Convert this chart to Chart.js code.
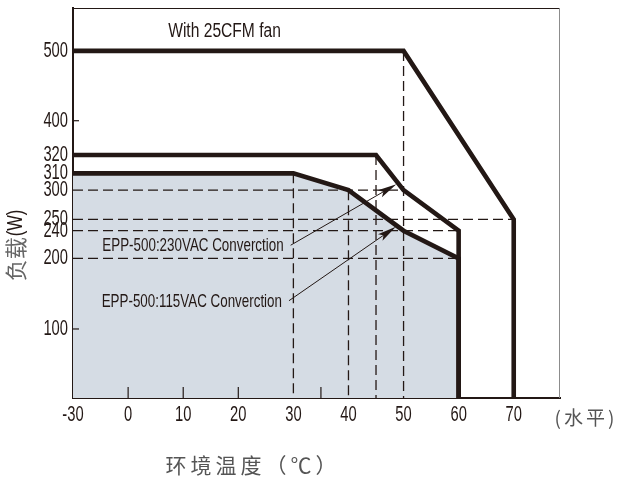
<!DOCTYPE html>
<html lang="zh">
<head>
<meta charset="UTF-8">
<title>EPP-500 降额曲线</title>
<style>
  html, body { margin: 0; padding: 0; background: #fff; }
  #wrap { width: 617px; height: 484px; }
</style>
</head>
<body>
<div id="wrap"><canvas id="myChart"></canvas></div>
<script src="https://cdn.jsdelivr.net/npm/chart.js"></script>
<script>
// 刻度
const xTicks = [-30, 0, 10, 20, 30, 40, 50, 60, 70];
const yTicks = [100, 200, 240, 250, 300, 310, 320, 400, 500];
const xMinorTicks = [0, 10, 20, 35];
const yMinorTicks = [100, 400];

// 降额曲线 (温度 / 负载)
const fanTemp = [-30, 50, 70, 70];
const fanLoad = [500, 500, 250, 0];
const ac230Temp = [-30, 45, 50, 60, 60];
const ac230Load = [320, 320, 300, 240, 0];
const ac115Temp = [-30, 30, 40, 50, 60, 60];
const ac115Load = [310, 310, 300, 240, 200, 0];

// 虚线辅助线
const hGuideLoad = [300, 250, 240, 200];
const hGuideTo = [50, 70, 60, 60];
const vGuideTemp = [30, 40, 45, 50];
const vGuideFrom = [310, 300, 320, 500];

// 标注文字与箭头 (起点 -> 终点)
const fanLabel = 'With 25CFM fan';
const fanLabelAt = [17.5, 527];
const noteLabels = ['EPP-500:230VAC Converction', 'EPP-500:115VAC Converction'];
const noteFrom = [[29.5, 219], [29.2, 140]];
const noteTo = [[48.7, 303.5], [48.6, 243.5]];

// 坐标轴不是等距的: 数值 -> 轴长比例
const axisBreaks = {
  x: [[-30, 0], [0, 0.1132], [78.4, 1]],
  y: [[0, 0], [100, 0.177], [200, 0.358], [240, 0.429], [250, 0.458], [300, 0.533],
      [310, 0.576], [320, 0.623], [400, 0.711], [500, 0.890], [560, 1]]
};

const INK = '#231815';
const SANS = "'Liberation Sans Narrow', 'Liberation Sans', sans-serif";
const CJK = "'Noto Sans CJK SC', sans-serif";

function lerp(list, v, a, b) {
  for (let i = 1; i < list.length; i++) {
    if (v <= list[i][a] || i === list.length - 1) {
      const p = list[i - 1], q = list[i];
      return p[b] + (v - p[a]) / (q[a] - p[a]) * (q[b] - p[b]);
    }
  }
}

// 分段线性坐标轴
class BrokenScale extends Chart.LinearScale {
  getPixelForValue(value) {
    if (value === null || value === undefined) return NaN;
    return this.getPixelForDecimal(lerp(axisBreaks[this.axis], value, 0, 1));
  }
  getValueForPixel(pixel) {
    return lerp(axisBreaks[this.axis], this.getDecimalForPixel(pixel), 1, 0);
  }
}
BrokenScale.id = 'broken';
BrokenScale.defaults = Chart.LinearScale.defaults;
Chart.register(BrokenScale);

function pts(xs, ys) {
  return xs.map((x, i) => ({ x: x, y: ys[i] }));
}

function curve(xs, ys, fill) {
  return {
    data: pts(xs, ys),
    borderColor: INK,
    borderWidth: 4.6,
    borderJoinStyle: 'miter',
    backgroundColor: '#d5dce4',
    fill: fill,
    pointRadius: 0,
    tension: 0
  };
}

function guide(xs, ys) {
  return {
    data: pts(xs, ys),
    borderColor: INK,
    borderWidth: 1.3,
    borderDash: [10, 5],
    fill: false,
    pointRadius: 0
  };
}

const datasets = [
  curve(fanTemp, fanLoad, false),
  curve(ac230Temp, ac230Load, false),
  curve(ac115Temp, ac115Load, 'origin')
];
hGuideLoad.forEach((w, i) => datasets.push(guide([-30, hGuideTo[i]], [w, w])));
vGuideTemp.forEach((t, i) => datasets.push(guide([t, t], [vGuideFrom[i], 0])));

// 原图用的是很窄的字体, 这里横向压缩
function text(ctx, str, x, y, font, color, align, sx) {
  ctx.save();
  ctx.font = font;
  ctx.fillStyle = color;
  ctx.textAlign = align;
  ctx.textBaseline = 'middle';
  ctx.translate(x, y);
  ctx.scale(sx || 1, 1);
  ctx.fillText(str, 0, 0);
  ctx.restore();
}

function arrow(ctx, x0, y0, x1, y1) {
  const ang = Math.atan2(y1 - y0, x1 - x0);
  ctx.beginPath();
  ctx.moveTo(x0, y0);
  ctx.lineTo(x1 - 12 * Math.cos(ang), y1 - 12 * Math.sin(ang));
  ctx.stroke();
  ctx.save();
  ctx.translate(x1, y1);
  ctx.rotate(ang);
  ctx.beginPath();
  ctx.moveTo(0, 0);
  ctx.lineTo(-19, -4);
  ctx.lineTo(-15, 0);
  ctx.lineTo(-19, 4);
  ctx.closePath();
  ctx.fill();
  ctx.restore();
}

const decor = {
  id: 'decor',
  afterDraw(chart) {
    const { ctx, chartArea: a, scales: { x, y } } = chart;
    ctx.save();
    // 上边框和右边框
    ctx.lineWidth = 1;
    ctx.strokeStyle = INK;
    ctx.beginPath();
    ctx.moveTo(a.left, a.top + 0.5);
    ctx.lineTo(a.right, a.top + 0.5);
    ctx.stroke();
    ctx.strokeStyle = '#8c8c8c';
    ctx.beginPath();
    ctx.moveTo(a.right - 0.5, a.top);
    ctx.lineTo(a.right - 0.5, a.bottom);
    ctx.stroke();

    // 内侧小刻度
    ctx.strokeStyle = INK;
    ctx.lineWidth = 1.2;
    xMinorTicks.forEach(t => {
      const px = x.getPixelForValue(t);
      ctx.beginPath();
      ctx.moveTo(px, a.bottom);
      ctx.lineTo(px, a.bottom - 11);
      ctx.stroke();
    });
    yMinorTicks.forEach(w => {
      const py = y.getPixelForValue(w);
      ctx.beginPath();
      ctx.moveTo(a.left, py);
      ctx.lineTo(a.left + 6, py);
      ctx.stroke();
    });

    // 刻度文字
    const tickFont = '22px ' + SANS;
    x.ticks.forEach(t => text(ctx, t.label, x.getPixelForValue(t.value), a.bottom + 17, tickFont, INK, 'center', 0.67));
    y.ticks.forEach(t => text(ctx, t.label, a.left - 5, y.getPixelForValue(t.value), tickFont, INK, 'right', 0.67));

    // 标注
    text(ctx, fanLabel, x.getPixelForValue(fanLabelAt[0]), y.getPixelForValue(fanLabelAt[1]),
      '20px ' + SANS, INK, 'center', 0.78);
    ctx.lineWidth = 1;
    ctx.fillStyle = INK;
    noteLabels.forEach((s, i) => {
      const x0 = x.getPixelForValue(noteFrom[i][0]), y0 = y.getPixelForValue(noteFrom[i][1]);
      const x1 = x.getPixelForValue(noteTo[i][0]), y1 = y.getPixelForValue(noteTo[i][1]);
      arrow(ctx, x0, y0, x1, y1);
      text(ctx, s, x0 - 7, y0 + 1, '18.6px ' + SANS, INK, 'right', 0.72);
    });

    // 轴标题
    ctx.save();
    ctx.letterSpacing = '3px';
    text(ctx, '(水平)', a.right + 26, a.bottom + 20, '19px ' + CJK, '#555', 'center', 1);
    ctx.letterSpacing = '4px';
    text(ctx, '环境温度（℃）', 253, 465, '21px ' + CJK, '#555', 'center', 1);
    ctx.restore();

    ctx.save();
    ctx.translate(16, 246);
    ctx.rotate(-Math.PI / 2);
    ctx.font = '22px ' + CJK;
    const w1 = ctx.measureText('负载').width;
    ctx.font = '22px ' + SANS;
    const w2 = ctx.measureText('(W)').width * 0.75;
    text(ctx, '负载', -(w1 + w2) / 2, 0, '22px ' + CJK, '#666', 'left', 1);
    text(ctx, '(W)', -(w1 + w2) / 2 + w1 + 1, 0, '22px ' + SANS, INK, 'left', 0.75);
    ctx.restore();
    ctx.restore();
  }
};

const ctx = document.getElementById('myChart').getContext('2d');
const myChart = new Chart(ctx, {
  type: 'line',
  data: { datasets: datasets },
  options: {
    responsive: true,
    maintainAspectRatio: false,
    animation: false,
    events: [],
    layout: { padding: { top: 8, right: 57, left: 0, bottom: 0 } },
    plugins: {
      legend: { display: false },
      tooltip: { enabled: false },
      filler: { drawTime: 'beforeDatasetsDraw' }
    },
    scales: {
      x: {
        type: 'broken',
        min: -30,
        max: 78.4,
        z: 1,
        grid: { display: false, drawTicks: false },
        border: { display: true, color: INK, width: 2 },
        afterBuildTicks: s => { s.ticks = xTicks.map(v => ({ value: v })); },
        afterFit: s => { s.height = 86; s.paddingLeft = 0; s.paddingRight = 0; },
        // 文字由 decor 插件压缩后绘制
        ticks: { display: false, autoSkip: false, callback: v => String(v) }
      },
      y: {
        type: 'broken',
        min: 0,
        max: 560,
        z: 1,
        grid: { display: false, drawTicks: false },
        border: { display: true, color: INK, width: 2 },
        afterBuildTicks: s => { s.ticks = yTicks.map(v => ({ value: v })); },
        afterFit: s => { s.width = 73; s.paddingTop = 0; s.paddingBottom = 0; },
        ticks: { display: false, autoSkip: false, callback: v => String(v) }
      }
    }
  },
  plugins: [decor]
});
</script>
</body>
</html>
